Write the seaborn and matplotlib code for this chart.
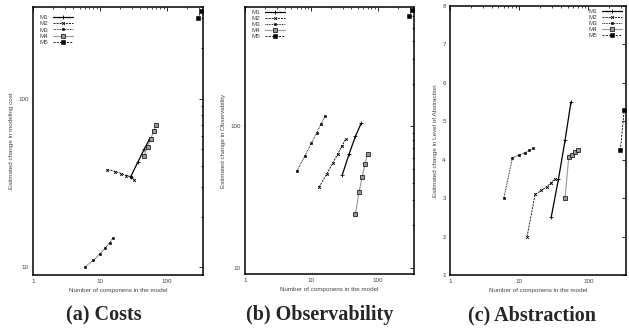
import matplotlib
import matplotlib.pyplot as plt
import matplotlib.ticker as mticker
import pandas as pd
import seaborn as sns

methods = ["M1", "M2", "M3", "M4", "M5"]

# number of components for each method
m1_x = [29, 37, 46, 56]
m2_x = [13, 17, 21, 25, 29, 33]
m3_x = [6, 8, 10, 12, 14, 16]
m4_x = [46, 52, 58, 64, 70]
m5_x = [290, 330]

# (a) costs
cost_m1 = [34.5, 42, 50, 58]
cost_m2 = [38, 37, 36, 35, 34.5, 33]
cost_m3 = [10, 11, 12, 13, 14, 15]
cost_m4 = [46, 52, 58, 64, 70]
cost_m5 = [300, 330]

# (b) observability
obs_m1 = [45, 64, 85, 105]
obs_m2 = [37, 46, 55, 64, 73, 82]
obs_m3 = [48, 62, 76, 90, 104, 118]
obs_m4 = [24, 34, 44, 54, 64]
obs_m5 = [600, 670]

# (c) abstraction
abs_m1 = [2.5, 3.5, 4.5, 5.5]
abs_m2 = [2.0, 3.1, 3.2, 3.3, 3.4, 3.5]
abs_m3 = [3.0, 4.05, 4.12, 4.18, 4.24, 4.3]
abs_m4 = [3.0, 4.06, 4.13, 4.19, 4.25]
abs_m5 = [4.25, 5.3]

xs = [m1_x, m2_x, m3_x, m4_x, m5_x]
panels = [
    ("Estimated change in modeling cost", "(a) Costs",
     [cost_m1, cost_m2, cost_m3, cost_m4, cost_m5]),
    ("Estimated change in Observability", "(b) Observability",
     [obs_m1, obs_m2, obs_m3, obs_m4, obs_m5]),
    ("Estimated change in Level of Abstraction", "(c) Abstraction",
     [abs_m1, abs_m2, abs_m3, abs_m4, abs_m5]),
]

styles = {
    "M1": dict(color="black", linestyle="-", marker="+", markersize=2.6,
               markeredgewidth=0.6, markeredgecolor="black", linewidth=0.9),
    "M2": dict(color="black", linestyle=(0, (2.5, 1.2)), marker="x",
               markersize=2.0, markeredgewidth=0.6, markeredgecolor="black",
               linewidth=0.6),
    "M3": dict(color="black", linestyle=(0, (0.8, 0.9)), marker="s",
               markersize=2.1, markeredgecolor="black", markeredgewidth=0.4,
               linewidth=0.7),
    "M4": dict(color="#999999", linestyle="-", marker="s", markersize=2.4,
               markeredgecolor="black", markeredgewidth=0.5, linewidth=0.8),
    "M5": dict(color="black", linestyle=(0, (2.5, 1.5)), marker="s",
               markersize=2.3, markeredgecolor="black", markeredgewidth=0.4,
               linewidth=0.6),
}

sns.set_theme(style="white")
plt.rcParams["font.family"] = ["Liberation Sans", "DejaVu Sans"]

fig = plt.figure(figsize=(6.29, 3.31), dpi=100)
boxes = [
    (33 / 629, 1 - 275 / 331, 170 / 629, 268 / 331),
    (245 / 629, 1 - 274 / 331, 169 / 629, 267 / 331),
    (450 / 629, 1 - 275 / 331, 176 / 629, 269 / 331),
]
caption_x = [104 / 629, 320 / 629, 532 / 629]

for i, (ylabel, caption, ys) in enumerate(panels):
    ax = fig.add_axes(boxes[i])
    for name, x, y in zip(methods, xs, ys):
        df = pd.DataFrame({"x": x, "y": y})
        sns.lineplot(data=df, x="x", y="y", ax=ax, label=name, sort=False,
                     estimator=None, **styles[name])
    ax.set_xscale("log")
    ax.set_xlim(1, 350)
    if i < 2:
        ax.set_yscale("log")
        ax.set_ylim(9, 350 if i == 0 else 700)
        ax.yaxis.set_major_formatter(mticker.FuncFormatter(lambda v, p: f"{v:g}"))
        ax.yaxis.set_minor_formatter(mticker.NullFormatter())
    else:
        ax.set_ylim(1, 8)
        ax.yaxis.set_major_locator(mticker.MultipleLocator(1))
    ax.xaxis.set_major_formatter(mticker.FuncFormatter(lambda v, p: f"{v:g}"))
    ax.xaxis.set_minor_formatter(mticker.NullFormatter())
    ax.tick_params(which="both", direction="in", top=True, right=True,
                   labelsize=4.5, colors="black", labelcolor="#444444", pad=3)
    ax.tick_params(which="major", length=3, width=0.6)
    ax.tick_params(which="minor", length=1.5, width=0.5)
    for s in ax.spines.values():
        s.set_color("black")
        s.set_linewidth(1.1)
    ax.set_xlabel("Number of componens in the model", fontsize=4.5,
                  color="#444444", labelpad=3)
    ax.set_ylabel(ylabel, fontsize=4.5, color="#444444", labelpad=3)

    leg_kw = dict(frameon=False, markerfirst=False, fontsize=4.5,
                  handlelength=3.2, handletextpad=0.8, labelspacing=0.12,
                  borderpad=0.2, borderaxespad=0.0, labelcolor="#444444")
    if i == 2:
        ax.legend(loc="upper right", bbox_to_anchor=(0.985, 0.995), **leg_kw)
    else:
        ax.legend(loc="upper left",
                  bbox_to_anchor=(0.03, 0.975 if i == 0 else 0.995), **leg_kw)

    fig.text(caption_x[i], 16 / 331, caption, ha="center", va="center",
             fontsize=14.5, fontweight="bold", family="Liberation Serif")

fig.savefig("out.png", dpi=100)
